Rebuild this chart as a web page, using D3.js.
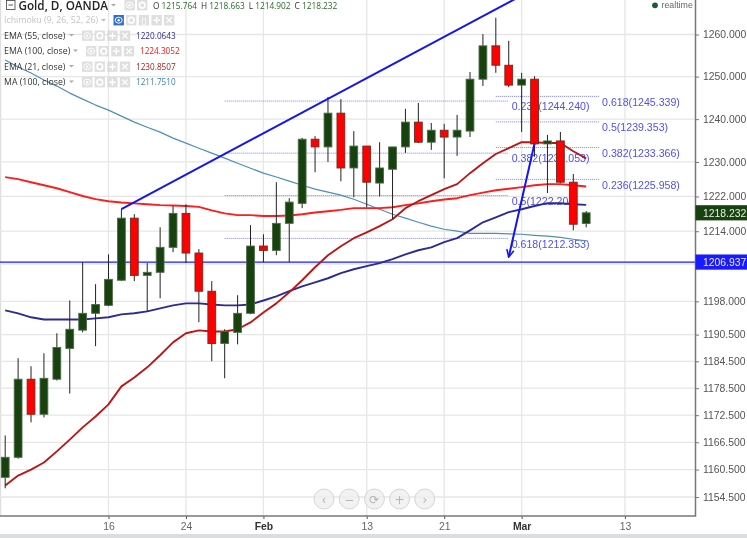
<!DOCTYPE html>
<html>
<head>
<meta charset="utf-8">
<script src="https://cdn.jsdelivr.net/npm/d3@7"></script>
<style>
html,body{margin:0;padding:0;background:#fff;overflow:hidden}
svg{display:block;filter:blur(0.35px)}
</style>
</head>
<body>
<svg id="chart" width="747" height="538"></svg>
<script>
const opens  = [1158.8,1163.2,1180.5,1172.7,1180.5,1187.4,1191.5,1195.3,1197.1,1202.8,1217.0,1203.9,1204.6,1210.3,1218.1,1209.0,1200.3,1188.5,1191.0,1195.3,1210.6,1209.6,1215.8,1220.4,1235.3,1233.5,1241.4,1228.6,1233.7,1225.1,1228.3,1233.5,1239.3,1234.6,1237.4,1235.8,1237.2,1249.4,1257.3,1252.7,1248.0,1249.4,1234.2,1234.9,1225.3,1215.764];
const highs  = [1168.0,1185.2,1183.4,1186.3,1190.8,1198.2,1206.9,1201.9,1208.7,1219.1,1217.9,1206.7,1214.9,1219.8,1220.2,1209.9,1202.6,1191.7,1199.4,1215.4,1213.3,1225.3,1221.6,1235.6,1236.0,1245.2,1244.7,1237.2,1233.7,1234.6,1233.5,1242.4,1243.8,1239.1,1238.9,1241.0,1251.1,1260.1,1264.0,1258.5,1250.9,1250.1,1236.3,1237.0,1227.2,1218.663];
const lows   = [1156.4,1162.9,1170.9,1172.0,1180.2,1177.3,1191.0,1187.9,1196.9,1202.6,1202.6,1195.7,1198.7,1209.2,1206.7,1193.3,1184.5,1180.7,1188.3,1195.1,1206.9,1208.5,1206.9,1219.3,1227.6,1230.0,1225.5,1221.8,1219.5,1222.0,1216.8,1232.1,1234.4,1232.8,1226.2,1231.4,1235.8,1247.8,1250.9,1247.5,1237.0,1231.2,1222.8,1225.1,1214.2,1214.902];
const closes = [1163.2,1180.5,1172.7,1180.7,1187.6,1191.7,1195.3,1197.3,1203.0,1217.0,1203.9,1204.6,1210.3,1218.1,1209.0,1200.3,1188.5,1191.2,1195.3,1210.6,1209.6,1215.8,1220.7,1235.3,1233.5,1241.4,1228.6,1233.7,1225.3,1228.6,1233.5,1239.3,1234.6,1237.4,1235.8,1237.4,1249.4,1257.3,1252.7,1248.0,1249.4,1234.2,1234.9,1225.3,1215.6,1218.232];

const ema21  = [1157.0,1159.2,1160.5,1162.05,1164.5,1167.1,1169.8,1172.2,1174.9,1178.9,1180.9,1183.15,1185.85,1188.75,1190.8,1191.45,1191.2,1191.2,1191.7,1193.25,1195.5,1197.55,1200.05,1202.8,1205.75,1208.5,1210.55,1212.4,1213.75,1215.15,1216.75,1219.3,1220.9,1222.3,1223.7,1224.85,1227.4,1229.7,1231.85,1233.2,1234.6,1234.6,1234.4,1234.4,1232.5,1230.85];
const ema55  = [1195.97,1195.3,1194.4,1193.9,1193.9,1193.9,1193.9,1194.15,1194.4,1195.05,1195.3,1195.75,1196.4,1197.1,1197.55,1197.55,1197.3,1197.1,1197.1,1197.3,1198.2,1199.15,1200.3,1201.4,1202.3,1203.25,1204.4,1205.3,1206.0,1206.7,1207.6,1208.7,1209.64,1210.3,1211.5,1212.4,1214.2,1216.05,1217.2,1218.4,1219.05,1219.8,1220.45,1220.45,1220.2,1220.06];
const ema100 = [1226.47,1226.0,1225.3,1224.6,1223.9,1223.0,1222.1,1221.4,1220.9,1220.6,1220.4,1220.2,1220.0,1219.9,1219.8,1219.6,1218.8,1218.1,1217.7,1217.7,1217.5,1217.5,1217.6,1217.9,1218.3,1218.6,1218.9,1219.3,1219.3,1219.3,1219.5,1220.0,1220.4,1220.9,1221.3,1221.6,1222.3,1222.9,1223.45,1223.8,1224.15,1224.6,1224.85,1224.85,1224.6,1224.3];
const ma100  = [1253.93,1252.27,1250.85,1249.19,1247.77,1246.12,1244.7,1243.3,1242.12,1240.7,1239.3,1238.1,1236.96,1235.55,1234.4,1233.2,1232.05,1230.9,1229.7,1228.55,1227.4,1226.5,1225.55,1224.6,1223.7,1223.0,1222.3,1221.35,1220.2,1219.05,1217.9,1217.0,1216.05,1215.15,1214.45,1214.0,1213.5,1213.5,1213.5,1213.4,1213.3,1213.05,1212.85,1212.6,1212.15,1211.8];

const priceTicks = [1260,1250,1240,1230,1222,1214,1206.5,1198,1190.5,1184.5,1178.5,1172.5,1166.5,1160.5,1154.5];
const hiddenPriceTick = 1206.5;
const dateTickIndex = [8,14,20,28,34,40,48];
const dateTickLabels = ["16","24","Feb","13","21","Mar","13"];
const boldDates = ["Feb","Mar"];

const fibRightLevels = ["0.618","0.5","0.382","0.236"];
const fibRightValues = [1245.339,1239.353,1233.366,1225.958];
const fibRightSpan = [38,46];
const fibLeftLevels = ["0.236","0.382","0.5","0.618"];
const fibLeftValues = [1244.240,1232.053,1222.204,1212.353];
const fibLeftSpan = [17,39];

const trendIndex = [9,39.5];
const trendPrice = [1219.1,1268.5];
const arrowIndex = [41,39];
const arrowPrice = [1234.3,1208.1];

const alertLevel = 1206.937;
const lastPrice = 1218.232;

const legendRows = [
  {name:"EMA (55, close)", value:"1220.0643", color:"#2b2b96"},
  {name:"EMA (100, close)", value:"1224.3052", color:"#ff1010"},
  {name:"EMA (21, close)", value:"1230.8507", color:"#b01818"},
  {name:"MA (100, close)", value:"1211.7510", color:"#3f7fae"}
];
const ohlcLabels = ["O","H","L","C"];
const ohlcValues = ["1215.764","1218.663","1214.902","1218.232"];

const W = 747, H = 538, plotR = 695.5, plotB = 516;
const FONT = "'Liberation Sans',Arial,sans-serif", UI = "'Open Sans',sans-serif";
const GREEN = "#17420f", RED = "#ff0000";

const svg = d3.select("#chart");
const x = d3.scaleLinear().domain([0,45]).range([5.2,586.2]);
const y = d3.scaleLog().domain([1154.5,1260]).range([497,34.5]);
const idx = d3.range(opens.length);

// strip under the chart
svg.append("rect").attr("x",0).attr("y",534).attr("width",W).attr("height",4).attr("fill","#d9dee3");
svg.append("rect").attr("x",0).attr("y",0).attr("width",1.2).attr("height",plotB).attr("fill","#dedede");

// grid
svg.append("g").selectAll("line").data(priceTicks).join("line")
  .attr("x1",0).attr("x2",plotR).attr("y1",d=>y(d)).attr("y2",d=>y(d))
  .attr("stroke","#e6e6e6").attr("stroke-width",1.3);
svg.append("g").selectAll("line").data(dateTickIndex).join("line")
  .attr("x1",d=>x(d)).attr("x2",d=>x(d)).attr("y1",0).attr("y2",plotB)
  .attr("stroke","#e6e6e6").attr("stroke-width",1.3);

// fib levels
function fib(levels, values, span){
  const g = svg.append("g");
  g.selectAll("line").data(values).join("line")
    .attr("x1",x(span[0])).attr("x2",x(span[1])).attr("y1",d=>y(d)).attr("y2",d=>y(d))
    .attr("stroke","#7d7df5").attr("stroke-width",1).attr("stroke-dasharray","1 1");
  g.selectAll("text").data(values).join("text")
    .attr("x",x(span[1])+3).attr("y",d=>y(d)+9.2)
    .attr("font-family",FONT).attr("font-size",10.6).attr("fill","#5050f0")
    .text((d,i)=>levels[i]+"("+d3.format(".3f")(d)+")");
}
fib(fibRightLevels,fibRightValues,fibRightSpan);
fib(fibLeftLevels,fibLeftValues,fibLeftSpan);

// horizontal level
svg.append("line").attr("x1",0).attr("x2",plotR).attr("y1",y(alertLevel)).attr("y2",y(alertLevel))
  .attr("stroke","#2020e0").attr("stroke-width",1.2);

// moving averages
const line = d3.line().x((d,i)=>x(i)).y(d=>y(d)).curve(d3.curveLinear);
[[ma100,"#4f8fb5",1.2],[ema100,"#ff1c1c",1.9],[ema55,"#2b2b96",1.9],[ema21,"#bb1616",1.9]].forEach(([s,c,w])=>{
  svg.append("path").attr("d",line(s)).attr("fill","none").attr("stroke",c).attr("stroke-width",w).attr("stroke-linejoin","round");
});

// candles
const candles = svg.append("g");
candles.selectAll("line").data(idx).join("line")
  .attr("x1",i=>x(i)).attr("x2",i=>x(i)).attr("y1",i=>y(highs[i])).attr("y2",i=>y(lows[i]))
  .attr("stroke","#222").attr("stroke-width",1);
candles.selectAll("rect").data(idx).join("rect")
  .attr("x",i=>x(i)-3.9).attr("width",7.8)
  .attr("y",i=>y(Math.max(opens[i],closes[i])))
  .attr("height",i=>Math.max(1,Math.abs(y(opens[i])-y(closes[i]))))
  .attr("fill",i=>closes[i]>=opens[i]?GREEN:RED)
  .attr("stroke",i=>closes[i]>=opens[i]?"#4f6b48":"#6e2a1e").attr("stroke-width",0.9);

// hand-drawn trend line and arrow
svg.append("line").attr("x1",x(trendIndex[0])).attr("y1",y(trendPrice[0]))
  .attr("x2",x(trendIndex[1])).attr("y2",y(trendPrice[1]))
  .attr("stroke","#1515ee").attr("stroke-width",2);
svg.append("defs").append("marker").attr("id","arrowHead").attr("viewBox","0 0 10 10")
  .attr("refX",9).attr("refY",5).attr("markerWidth",9).attr("markerHeight",9)
  .attr("markerUnits","userSpaceOnUse").attr("orient","auto")
  .append("path").attr("d","M1,1L9,5L1,9").attr("fill","none").attr("stroke","#1515ee").attr("stroke-width",1.8);
svg.append("line").attr("x1",x(arrowIndex[0])).attr("y1",y(arrowPrice[0]))
  .attr("x2",x(arrowIndex[1])).attr("y2",y(arrowPrice[1]))
  .attr("stroke","#1515ee").attr("stroke-width",2).attr("marker-end","url(#arrowHead)");

// axes
const yAxis = svg.append("g").attr("transform",`translate(${plotR},0)`)
  .call(d3.axisRight(y).tickValues(priceTicks)
    .tickFormat(d=>d===hiddenPriceTick?"":d3.format(".3f")(d)).tickSize(3.5).tickPadding(4));
yAxis.select(".domain").remove();
yAxis.selectAll("text").attr("font-family",FONT).attr("font-size",10.4).attr("fill","#555");
yAxis.selectAll("line").attr("stroke","#777");

const xAxis = svg.append("g").attr("transform",`translate(0,${plotB})`)
  .call(d3.axisBottom(x).tickValues(dateTickIndex).tickFormat((d,i)=>dateTickLabels[i]).tickSize(3).tickPadding(4));
xAxis.select(".domain").remove();
xAxis.selectAll("text").attr("font-family",FONT).attr("font-size",10.4)
  .attr("fill",function(){return boldDates.includes(this.textContent)?"#333":"#666"})
  .attr("font-weight",function(){return boldDates.includes(this.textContent)?"bold":"normal"});
xAxis.selectAll("line").attr("stroke","#555");

svg.append("line").attr("x1",0).attr("x2",plotR+0.7).attr("y1",plotB).attr("y2",plotB).attr("stroke","#777").attr("stroke-width",1.5);
svg.append("line").attr("x1",plotR).attr("x2",plotR).attr("y1",0).attr("y2",plotB).attr("stroke","#777").attr("stroke-width",1.5);

// price labels on the axis
function priceTag(v, fill, color){
  svg.append("rect").attr("x",plotR).attr("y",y(v)-7.6).attr("width",W-plotR).attr("height",15.2).attr("fill",fill);
  svg.append("text").attr("x",703).attr("y",y(v)+3.7).attr("font-family",FONT).attr("font-size",10.4)
    .attr("fill",color).text(d3.format(".3f")(v));
}
priceTag(lastPrice,GREEN,"#e8efe6");
priceTag(alertLevel,"#1a1aff","#e6e6ff");

// legend
function button(px, cy, kind, fill){
  const g = svg.append("g").attr("transform",`translate(${px},${cy-5})`);
  g.append("rect").attr("width",10.4).attr("height",10.4).attr("fill",fill||"#d9d9d9").attr("opacity",fill?1:0.85);
  if(kind==="eye"){
    g.append("ellipse").attr("cx",5.2).attr("cy",5.2).attr("rx",3.5).attr("ry",3).attr("fill","none").attr("stroke","#fff").attr("stroke-width",1);
    g.append("circle").attr("cx",5.2).attr("cy",5.2).attr("r",1.2).attr("fill","#fff");
  } else if(kind==="gear"){
    g.append("circle").attr("cx",5.2).attr("cy",5.2).attr("r",2.8).attr("fill","none").attr("stroke","#fff").attr("stroke-width",1.7);
  } else if(kind==="plus"){
    g.append("path").attr("d","M5.2 2V8.4M2 5.2H8.4").attr("stroke","#fff").attr("stroke-width",1.4);
  } else if(kind==="x"){
    g.append("path").attr("d","M2.5 2.5L7.9 7.9M7.9 2.5L2.5 7.9").attr("stroke","#fff").attr("stroke-width",1.3);
  } else if(kind==="braces"){
    g.append("text").attr("x",5.2).attr("y",8).attr("text-anchor","middle").attr("font-size",8).attr("fill","#fff").attr("font-family",FONT).text("{}");
  }
}
function caret(px, cy, c){
  svg.append("path").attr("d",`M${px} ${cy-1.5}h5l-2.5 2.6z`).attr("fill",c||"#aaa");
}
// title row
svg.append("rect").attr("x",6.5).attr("y",0.5).attr("width",8.5).attr("height",9).attr("fill","#fff").attr("stroke","#555").attr("stroke-width",0.9);
svg.append("line").attr("x1",8.5).attr("x2",13).attr("y1",5).attr("y2",5).attr("stroke","#555");
svg.append("text").attr("x",18.5).attr("y",10).attr("font-family",UI).attr("font-size",11.7).attr("font-weight",600).attr("fill","#222").text("Gold, D, OANDA");
caret(111,5.5);
button(124.5,5,"eye"); button(137,5,"gear");
const ohlc = svg.append("text").attr("x",153).attr("y",8.6).attr("font-family",UI).attr("font-size",8.3);
ohlcLabels.forEach((l,i)=>{
  ohlc.append("tspan").attr("fill","#333").attr("dx",i?4:0).text(l+" ");
  ohlc.append("tspan").attr("fill","#2a6a2a").text(ohlcValues[i]);
});
// ichimoku row
svg.append("text").attr("x",4).attr("y",23.2).attr("font-family",UI).attr("font-size",8.8).attr("fill","#c4c4c4").text("Ichimoku (9, 26, 52, 26)");
caret(101,20.5,"#bbb");
button(113.5,20,"eye","#2f6fd0"); button(126,20,"gear"); button(138.7,20,"braces"); button(151.4,20,"plus"); button(164,20,"x");
// indicator rows
const rowY = [35.5,51,66.5,82];
const btnStart = [82,86,82,82];
const valX = [136,140,136,136];
legendRows.forEach((r,i)=>{
  svg.append("text").attr("x",4).attr("y",rowY[i]+3.2).attr("font-family",UI).attr("font-size",8.8).attr("fill","#333").text(r.name);
  caret(btnStart[i]-13,rowY[i]);
  ["eye","gear","plus","x"].forEach((k,j)=>button(btnStart[i]+j*12.6,rowY[i],k));
  svg.append("text").attr("x",valX[i]).attr("y",rowY[i]+3.2).attr("font-family",UI).attr("font-size",8.2).attr("fill",r.color).text(r.value);
});

// realtime
svg.append("circle").attr("cx",655).attr("cy",5.3).attr("r",2.9).attr("fill","#1a5c32");
svg.append("text").attr("x",661.5).attr("y",8.3).attr("font-family",FONT).attr("font-size",8.8).attr("fill","#666").text("realtime");

// navigation buttons
const navGlyphs = ["‹","−","⟳","+","›"];
const nav = svg.append("g");
navGlyphs.forEach((g,i)=>{
  const cx = 324+i*25.2;
  nav.append("circle").attr("cx",cx).attr("cy",499).attr("r",10).attr("fill","#efefef").attr("fill-opacity",0.8).attr("stroke","#d4d4d4");
  nav.append("text").attr("x",cx).attr("y",503.5).attr("text-anchor","middle").attr("font-family","'DejaVu Sans',sans-serif").attr("font-size",12).attr("fill","#b4b4b4").text(g);
});
</script>
</body>
</html>
